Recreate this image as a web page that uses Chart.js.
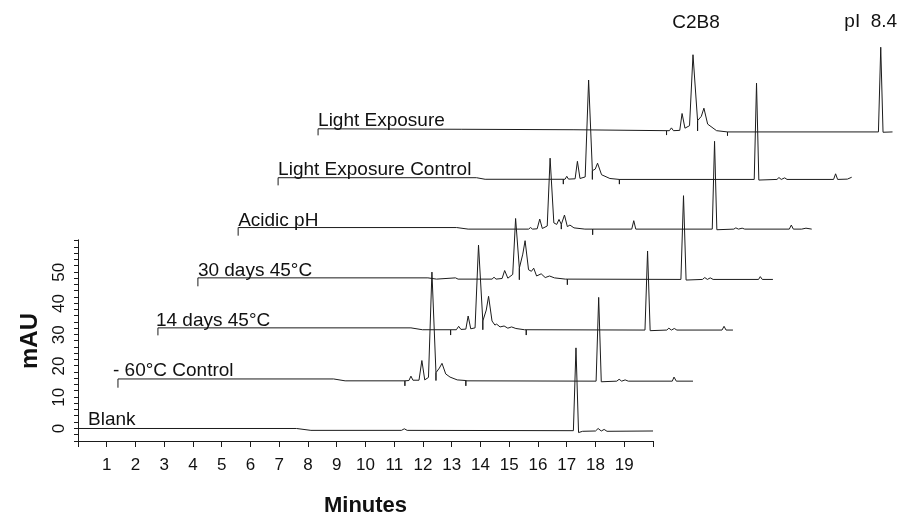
<!DOCTYPE html>
<html><head><meta charset="utf-8">
<script src="https://cdn.jsdelivr.net/npm/chart.js@4.4.1/dist/chart.umd.min.js"></script>
<style>html,body{margin:0;padding:0;background:#fff;}#wrap{width:907px;height:514px;}</style>
</head><body><div id="wrap"><canvas id="c" width="907" height="514"></canvas></div>
<script>
// ---------------- DATA ----------------
const traceNames = ["Blank", "- 60\u00B0C Control", "14 days 45\u00B0C", "30 days 45\u00B0C", "Acidic pH", "Light Exposure Control", "Light Exposure"];
const peakLabels = ["C2B8", "pI  8.4"];
const xTickValues = [0,1,2,3,4,5,6,7,8,9,10,11,12,13,14,15,16,17,18,19,20];
const xTickLabels = ["","1","2","3","4","5","6","7","8","9","10","11","12","13","14","15","16","17","18","19",""];
const yTickValues = [-4,-2,0,2,4,6,8,10,12,14,16,18,20,22,24,26,28,30,32,34,36,38,40,42,44,46,48,50,52,54,56,58,60];
const yTickLabels = {0:"0",10:"10",20:"20",30:"30",40:"40",50:"50"};

// Each trace: time (min, from trace start) and signal (mAU, from trace baseline)
const blankT = [0, 7.6, 8.1, 11.25, 11.35, 11.45, 17.23, 17.32, 17.41, 17.55, 18.0, 18.09, 18.2, 18.3, 18.4, 20.0];
const blankV = [0, 0, -0.6, -0.6, -0.1, -0.6, -0.7, 25.8, -1.3, -0.9, -0.8, 0.0, -0.8, -0.3, -0.9, -0.8];

const c60T = [0, 0, 7.5, 7.9, 9.98, 9.98, 9.98, 10.12, 10.19, 10.26, 10.47, 10.57, 10.67, 10.8, 10.92, 11.06, 11.06, 11.06, 11.18, 11.27, 11.4, 11.55, 11.8, 12.1, 12.1, 12.1, 16.63, 16.72, 16.81, 17.35, 17.43, 17.52, 17.64, 17.75, 19.28, 19.34, 19.42, 20];
const c60V = [-2.8, 0, 0, -0.6, -0.6, -2.2, -0.6, -0.5, 0.9, -0.4, -0.4, 5.9, -0.3, 0.5, 34.2, 2.0, -0.5, 2.0, 3.5, 5.0, 1.6, 0.6, -0.3, -0.5, -2.2, -0.6, -0.7, 26.1, -0.9, -0.7, -0.1, -0.7, -0.3, -0.7, -0.7, 0.6, -0.7, -0.7];

const d14T = [0, 0, 8.8, 9.2, 10.18, 10.18, 10.18, 10.38, 10.46, 10.54, 10.71, 10.79, 10.88, 11.03, 11.15, 11.3, 11.3, 11.3, 11.42, 11.50, 11.62, 11.72, 11.78, 11.9, 12.04, 12.17, 12.30, 12.45, 12.75, 12.81, 12.81, 12.81, 16.94, 17.03, 17.12, 17.7, 17.77, 17.86, 17.96, 18.05, 19.62, 19.69, 19.76, 20];
const d14V = [-2.1, 0.3, 0.3, -0.3, -0.3, -2.0, -0.3, -0.3, 0.8, -0.2, -0.1, 4.1, 0.0, 0.3, 26.8, 2.5, -0.3, 2.5, 6.0, 10.4, 2.5, 1.2, 1.5, 0.6, 0.9, 0.2, 0.6, 0.1, -0.3, -0.3, -2.0, -0.3, -0.4, 24.9, -0.6, -0.4, 0.2, -0.4, 0.1, -0.4, -0.4, 0.8, -0.4, -0.4];

const d30T = [0, 0, 8.0, 8.3, 8.96, 9.05, 10.23, 10.30, 10.37, 10.58, 10.67, 10.78, 10.95, 11.05, 11.18, 11.18, 11.18, 11.3, 11.38, 11.5, 11.6, 11.68, 11.78, 11.94, 12.08, 12.23, 12.4, 12.78, 12.85, 12.85, 12.85, 16.8, 16.89, 16.98, 17.55, 17.63, 17.72, 17.82, 17.92, 19.5, 19.56, 19.63, 20];
const d30V = [-2.3, 0.4, 0.4, 0, 0.4, 0, 0, 0.6, 0, 0.2, 2.75, 0.3, 1.5, 19.4, 3.5, -0.2, 3.5, 8.0, 12.3, 3.0, 2.5, 3.5, 1.0, 1.7, 0.5, 1.0, 0.4, 0, 0, -1.8, 0, -0.1, 26.7, -0.3, -0.1, 0.5, -0.1, 0.4, -0.1, -0.1, 0.8, -0.1, -0.1];

const acidT = [0, 0, 7.6, 8.0, 10.1, 10.17, 10.24, 10.4, 10.49, 10.58, 10.75, 10.85, 10.98, 11.08, 11.16, 11.24, 11.24, 11.24, 11.35, 11.45, 11.54, 11.68, 12.06, 12.33, 12.33, 12.33, 13.69, 13.76, 13.83, 16.49, 16.57, 16.65, 17.24, 17.31, 17.4, 17.53, 17.62, 19.17, 19.24, 19.31, 19.6, 19.75, 19.95];
const acidV = [-2.1, 0.5, 0.5, 0, 0, 0.5, 0, 0.1, 3.2, 0.2, 1.0, 22.7, 2.0, 1.5, 3.1, 1.5, 0, 1.5, 4.5, 0.8, 1.3, 0.4, 0, 0, -1.8, 0, 0, 2.7, 0, 0, 28.1, -0.2, 0, 0.4, 0, 0.3, 0, 0, 1.3, 0, 0, 0.3, 0];

const lecT = [0, 0, 6.9, 7.2, 9.92, 9.92, 9.92, 9.98, 10.04, 10.1, 10.33, 10.41, 10.5, 10.68, 10.80, 10.93, 10.93, 10.93, 11.03, 11.11, 11.25, 11.54, 11.87, 11.87, 11.87, 16.56, 16.64, 16.72, 17.35, 17.42, 17.5, 17.62, 17.7, 19.32, 19.39, 19.46, 19.8, 19.95];
const lecV = [-2.2, 0.25, 0.25, -0.25, -0.25, -1.8, -0.25, -0.25, 0.7, -0.2, -0.1, 5.5, 0, 0.5, 31.5, 2.5, -0.3, 2.5, 3.0, 4.9, 1.2, 0, -0.3, -1.8, -0.3, -0.3, 30.5, -0.5, -0.3, 0.3, -0.3, 0.2, -0.3, -0.3, 1.5, -0.3, -0.2, 0.4];

const leT = [0, 0, 5, 8.9, 12.12, 12.12, 12.12, 12.22, 12.29, 12.36, 12.58, 12.66, 12.76, 12.92, 13.04, 13.2, 13.2, 13.2, 13.33, 13.42, 13.55, 13.86, 14.24, 14.24, 14.24, 19.49, 19.57, 19.65, 19.98];
const leV = [-2.1, 0, -0.15, -0.3, -0.6, -2.0, -0.6, -0.6, 0.3, -0.6, -0.5, 4.9, 0.2, 1.0, 23.7, 2.6, -0.7, 2.6, 4.0, 6.6, 1.5, -0.6, -1.0, -2.2, -1.0, -1.0, 26.1, -1.1, -1.0];

const traceTimes = [blankT, c60T, d14T, d30T, acidT, lecT, leT];
const traceValues = [blankV, c60V, d14V, d30V, acidV, lecV, leV];

// ---------------- LAYOUT (waterfall offsets, not data) ----------------
const traceShiftX = [0, 1.39, 2.78, 4.17, 5.57, 6.96, 8.35];      // minutes
const traceShiftY = [0, 15.85, 31.9, 47.8, 63.8, 80.0, 95.9];      // mAU
const labelDxPx = [10, -5, -2, 0, 0, 0, 0];
const FONT = "'Liberation Sans', Arial, Helvetica, sans-serif";
const INK = '#1b1b1b';

const datasets = traceTimes.map((ts, k) => ({
  label: traceNames[k],
  data: ts.map((t, i) => ({x: t + traceShiftX[k], y: traceValues[k][i] + traceShiftY[k]})),
  borderColor: INK, borderWidth: 1, pointRadius: 0, tension: 0, fill: false
}));

const decor = {
  id: 'decor',
  afterDraw(chart) {
    const {ctx, scales: {x, y}} = chart;
    ctx.save();
    ctx.strokeStyle = INK; ctx.lineWidth = 1;
    const xb = Math.round(x.getPixelForValue(0)) + 0.5;
    const yb = Math.round(y.getPixelForValue(-4)) + 0.5;
    ctx.beginPath();
    ctx.moveTo(xb, yb); ctx.lineTo(x.getPixelForValue(20), yb);
    ctx.moveTo(xb, yb); ctx.lineTo(xb, y.getPixelForValue(60.5));
    ctx.stroke();
    ctx.fillStyle = '#111';
    ctx.textBaseline = 'alphabetic'; ctx.textAlign = 'left';
    ctx.font = '19px ' + FONT;
    traceNames.forEach((n, k) => {
      const px = x.getPixelForValue(traceShiftX[k]) + labelDxPx[k];
      const py = y.getPixelForValue(traceShiftY[k]) - 3;
      ctx.fillText(n, px, py);
    });
    ctx.textAlign = 'center';
    ctx.fillText(peakLabels[0], x.getPixelForValue(13.04 + traceShiftX[6]) + 3, 28);
    ctx.fillText(peakLabels[1], x.getPixelForValue(19.57 + traceShiftX[6]) - 10, 27);
    ctx.font = 'bold 22px ' + FONT;
    ctx.textBaseline = 'middle';
    ctx.fillText('Minutes', x.getPixelForValue(10), 506);
    ctx.save();
    ctx.translate(30, y.getPixelForValue(28));
    ctx.rotate(-Math.PI / 2);
    ctx.font = 'bold 24px ' + FONT;
    ctx.fillText('mAU', 0, 0);
    ctx.restore();
    ctx.restore();
  }
};

new Chart(document.getElementById('c'), {
  type: 'line',
  data: {datasets},
  options: {
    responsive: false, animation: false, devicePixelRatio: 1,
    layout: {padding: {top: 5, right: 7, left: 0, bottom: 0}},
    plugins: {legend: {display: false}, tooltip: {enabled: false}},
    scales: {
      x: {
        type: 'linear', min: 0, max: 28.59,
        afterBuildTicks: (s) => { s.ticks = xTickValues.map(v => ({value: v})); },
        afterFit: (s) => { s.height = 73; },
        ticks: {autoSkip: false, maxRotation: 0, padding: 8, color: '#111', font: {family: FONT, size: 17},
          callback: (v) => { const i = xTickValues.indexOf(v); return i >= 0 ? xTickLabels[i] : ''; }},
        grid: {drawOnChartArea: false, drawTicks: true, tickLength: 6, tickColor: INK, color: INK},
        border: {display: false}
      },
      y: {
        type: 'linear', min: -4, max: 132.25,
        afterBuildTicks: (s) => { s.ticks = yTickValues.map(v => ({value: v})); },
        afterFit: (s) => { s.width = 78; },
        ticks: {autoSkip: false, minRotation: 90, maxRotation: 90, crossAlign: 'center', padding: 5, color: '#111',
          font: {family: FONT, size: 17},
          callback: (v) => (yTickLabels[v] !== undefined ? yTickLabels[v] : '')},
        grid: {drawOnChartArea: false, drawTicks: true, tickLength: 4, tickColor: INK, color: INK},
        border: {display: false}
      }
    }
  },
  plugins: [decor]
});
</script>
</body></html>
